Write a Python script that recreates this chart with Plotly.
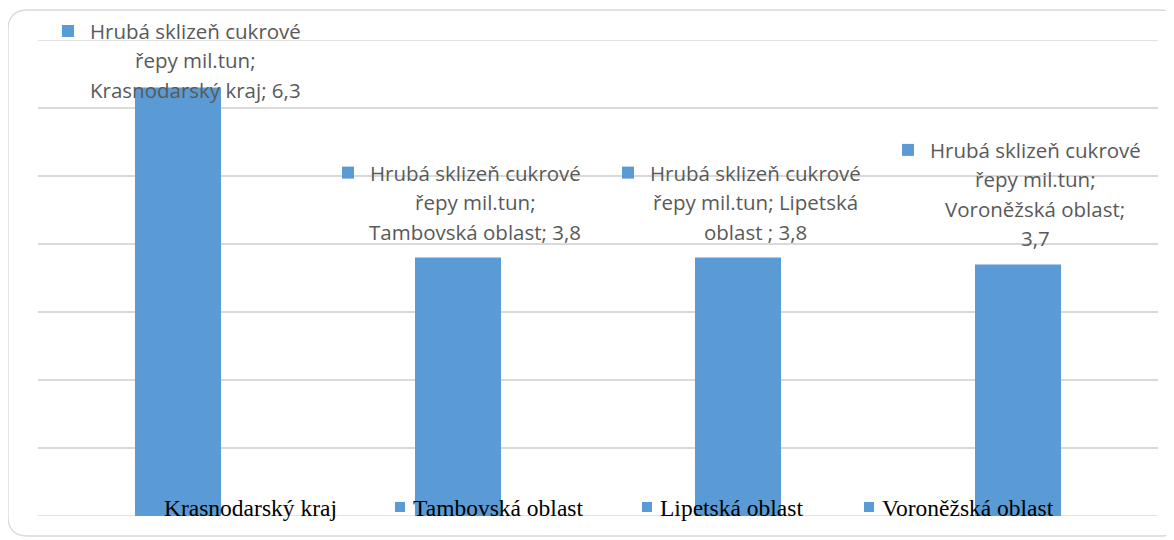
import plotly.graph_objects as go

# ---- data ----
series_name = "Hrubá sklizeň cukrové řepy mil.tun"
categories = ["Krasnodarský kraj", "Tambovská oblast", "Lipetská oblast", "Voroněžská oblast"]
values = [6.3, 3.8, 3.8, 3.7]
label_lines = [
    ["Hrubá sklizeň cukrové", "řepy mil.tun;", "Krasnodarský kraj; 6,3"],
    ["Hrubá sklizeň cukrové", "řepy mil.tun;", "Tambovská oblast; 3,8"],
    ["Hrubá sklizeň cukrové", "řepy mil.tun; Lipetská", "oblast ; 3,8"],
    ["Hrubá sklizeň cukrové", "řepy mil.tun;", "Voroněžská oblast;", "3,7"],
]

# ---- style / layout constants ----
BAR = "#5B9BD5"
GRID = "#D9D9D9"
LABEL = "#595959"
OFF = 8                      # page body margin
W, H = 1174 - OFF, 540 - OFF
ML, MT = 38 - OFF, 40 - OFF
PW, PH = 1120, 476
MR, MB = W - ML - PW, H - MT - PH
YMAX = 7
PXU = PH / YMAX
LINE_H = 29.5
GAP = 26
TOP_LIMIT = PH + 9            # highest allowed label line centre above baseline
TXT_SHIFT = 17
HALF_W = 107
LABEL_FONT = dict(family="Open Sans, Noto Sans, sans-serif", size=20.5, color=LABEL)

fig = go.Figure(go.Bar(
    x=categories, y=values, marker=dict(color=BAR, line=dict(width=0)),
    hoverinfo="skip", showlegend=False,
))

annotations = []
shapes = []

# gridlines at the range ends (plotly hides those at the edges)
for yv in (0, YMAX):
    shapes.append(dict(type="line", xref="paper", yref="y", x0=0, x1=1, y0=yv, y1=yv,
                       line=dict(color=GRID, width=1.5), layer="below"))

ncat = len(categories)
for i, (cat, v, lines) in enumerate(zip(categories, values, label_lines)):
    n = len(lines)
    offs = [GAP + (n - 1 - k) * LINE_H for k in range(n)]
    top = v * PXU + offs[0]
    shift = max(0, top - TOP_LIMIT)
    offs = [o - shift for o in offs]
    for k, line in enumerate(lines):
        annotations.append(dict(
            x=cat, y=v, xref="x", yref="y", text=line, showarrow=False,
            xanchor="center", yanchor="middle", xshift=TXT_SHIFT, yshift=offs[k],
            font=LABEL_FONT,
        ))
    # legend key square in front of the first label line (paper refs -> not clipped)
    sq_y = v * PXU + offs[0]
    shapes.append(dict(
        type="rect", xref="paper", yref="paper", xsizemode="pixel", ysizemode="pixel",
        xanchor=(i + 0.5) / ncat, yanchor=0,
        x0=TXT_SHIFT - HALF_W - 26, x1=TXT_SHIFT - HALF_W - 14,
        y0=sq_y - 6, y1=sq_y + 6, fillcolor=BAR, line=dict(width=0), layer="above",
    ))

# legend row (categories) drawn at the bottom over the bars
legend_text_px = [162, 411, 658, 880]   # page x of legend text start
legend_mid = 8                            # px above baseline
for cat, px in zip(categories, legend_text_px):
    xp = (px - 38) / PW
    annotations.append(dict(
        x=xp, y=0, xref="paper", yref="paper", yshift=legend_mid,
        text=cat, showarrow=False, xanchor="left", yanchor="middle",
        font=dict(family="Liberation Serif, Times New Roman, serif", size=23.5, color="#000000"),
    ))
    shapes.append(dict(
        type="rect", xref="paper", yref="paper", xsizemode="pixel", ysizemode="pixel",
        xanchor=xp, yanchor=0,
        x0=-16, x1=-6, y0=legend_mid - 4, y1=legend_mid + 6,
        fillcolor=BAR, line=dict(width=0), layer="below",
    ))

# rounded chart border (right edge runs just past the visible page)
shapes.append(dict(
    type="path", xref="paper", yref="paper", xsizemode="pixel", ysizemode="pixel",
    xanchor=0, yanchor=0,
    path="M -10,-20 L 1122,-20 Q 1142,-20 1142,0 L 1142,486 Q 1142,506 1122,506 "
         "L -10,506 Q -30,506 -30,486 L -30,0 Q -30,-20 -10,-20 Z",
    line=dict(color=GRID, width=1.3), layer="below",
))

fig.update_layout(
    width=W, height=H, margin=dict(l=ML, r=MR, t=MT, b=MB),
    paper_bgcolor="white", plot_bgcolor="white",
    bargap=1 - 86 / 280,
    xaxis=dict(showticklabels=False, showgrid=False, zeroline=False, showline=False,
               ticks="", range=[-0.5, 3.5]),
    yaxis=dict(range=[0, YMAX], tick0=0, dtick=1, showticklabels=False,
               showgrid=True, gridcolor=GRID, gridwidth=1.5, zeroline=False,
               showline=False, ticks=""),
    annotations=annotations, shapes=shapes, showlegend=False,
)

fig.write_html("out.html")
